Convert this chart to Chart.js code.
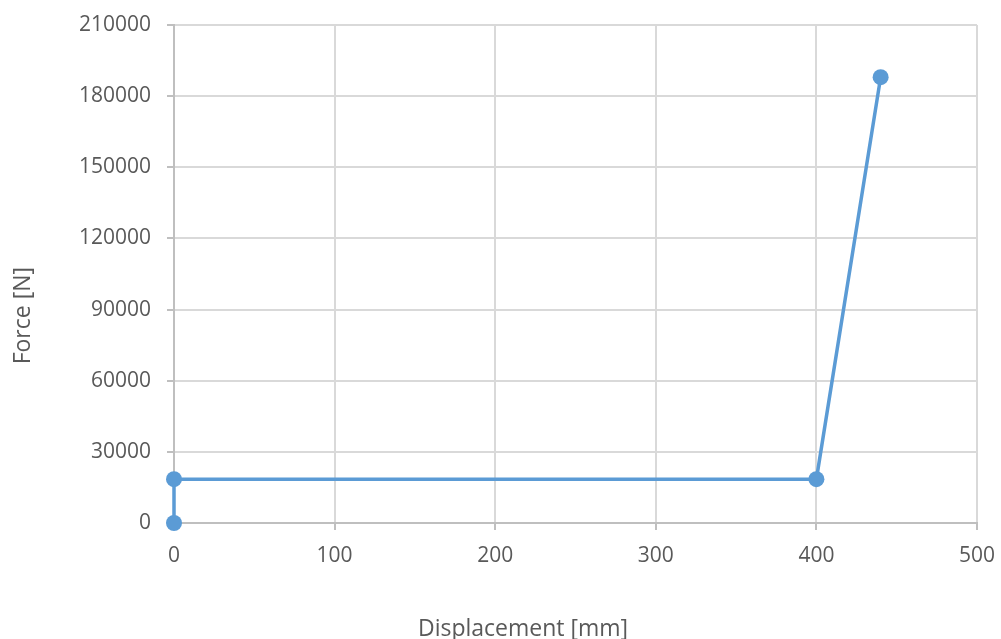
<!DOCTYPE html>
<html>
<head>
<meta charset="utf-8">
<script src="https://cdn.jsdelivr.net/npm/chart.js@4/dist/chart.umd.min.js"></script>
<style>
html,body{margin:0;padding:0;background:#fff;}
#wrap{width:1001px;height:639px;position:relative;}
</style>
</head>
<body>
<div id="wrap"><canvas id="c"></canvas></div>
<script>
const displacement = [0, 0, 400, 440];
const force = [0, 18500, 18500, 188000];
const xTicks = [0, 100, 200, 300, 400, 500];
const yTicks = [0, 30000, 60000, 90000, 120000, 150000, 180000, 210000];
const xTitle = 'Displacement [mm]';
const yTitle = 'Force [N]';

const points = displacement.map((x, i) => ({x: x, y: force[i]}));
const FONT = '"Open Sans", sans-serif';
const TEXT = '#595959';

const titlePlugin = {
  id: 'axisTitles',
  afterDraw(chart) {
    const ctx = chart.ctx;
    ctx.save();
    ctx.fillStyle = TEXT;
    ctx.font = '23px ' + FONT;
    ctx.textAlign = 'center';
    ctx.textBaseline = 'middle';
    ctx.fillText(xTitle, chart.width * 0.5225, chart.height - 10);
    ctx.translate(23, chart.height * 0.494);
    ctx.rotate(-Math.PI / 2);
    ctx.fillText(yTitle, 0, 0);
    ctx.restore();
  }
};

new Chart(document.getElementById('c'), {
  type: 'scatter',
  data: {
    datasets: [{
      data: points,
      showLine: true,
      clip: false,
      borderColor: '#5B9BD5',
      backgroundColor: '#5B9BD5',
      borderWidth: 3.5,
      pointRadius: 8,
      pointHoverRadius: 8,
      pointBorderWidth: 0,
      tension: 0
    }]
  },
  options: {
    responsive: true,
    maintainAspectRatio: false,
    animation: false,
    layout: {padding: {top: 25, right: 24, left: 0, bottom: 0}},
    plugins: {legend: {display: false}, tooltip: {enabled: false}},
    scales: {
      x: {
        type: 'linear',
        min: xTicks[0],
        max: xTicks[xTicks.length - 1],
        afterBuildTicks(scale) { scale.ticks = xTicks.map(v => ({value: v})); },
        afterFit(scale) { scale.height = 116; scale.paddingLeft = 0; scale.paddingRight = 0; },
        grid: {color: '#d9d9d9', lineWidth: 2, tickLength: 7, tickColor: '#bfbfbf'},
        border: {color: '#bfbfbf', width: 2},
        ticks: {color: TEXT, font: {family: FONT, size: 21}, padding: 13, maxRotation: 0}
      },
      y: {
        type: 'linear',
        min: yTicks[0],
        max: yTicks[yTicks.length - 1],
        afterBuildTicks(scale) { scale.ticks = yTicks.map(v => ({value: v})); },
        afterFit(scale) { scale.width = 174; scale.paddingTop = 0; scale.paddingBottom = 0; },
        grid: {color: '#d9d9d9', lineWidth: 2, tickLength: 7, tickColor: '#bfbfbf'},
        border: {color: '#bfbfbf', width: 2},
        ticks: {color: TEXT, font: {family: FONT, size: 21}, padding: 16, callback: v => String(v)}
      }
    }
  },
  plugins: [titlePlugin]
});
</script>
</body>
</html>
